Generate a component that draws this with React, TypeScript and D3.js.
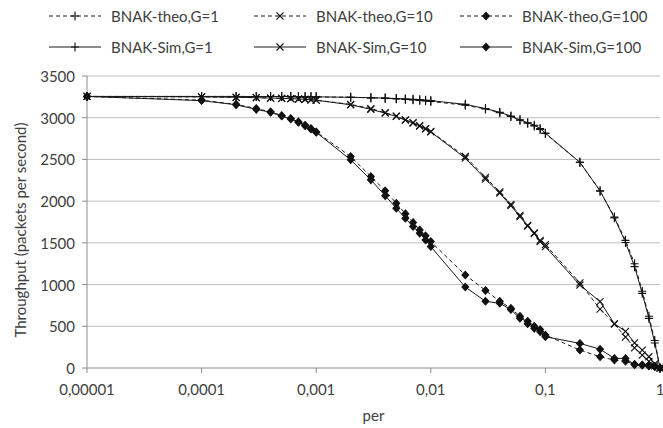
import React from 'react';
import * as d3 from 'd3';

// packet error rate values (x) shared by all series
const perValues = [
  0.00001,
  0.0001, 0.0002, 0.0003, 0.0004, 0.0005, 0.0006, 0.0007, 0.0008, 0.0009,
  0.001, 0.002, 0.003, 0.004, 0.005, 0.006, 0.007, 0.008, 0.009,
  0.01, 0.02, 0.03, 0.04, 0.05, 0.06, 0.07, 0.08, 0.09,
  0.1, 0.2, 0.3, 0.4, 0.5, 0.6, 0.7, 0.8, 0.9,
  1,
];

const theoG1 = [
  3255,
  3255, 3255, 3254, 3254, 3254, 3253, 3253, 3252, 3252,
  3250, 3244, 3238, 3232, 3226, 3220, 3214, 3208, 3202,
  3195, 3150, 3105, 3060, 3015, 2970, 2935, 2900, 2860,
  2810, 2465, 2120, 1810, 1530, 1250, 920, 620, 330,
  0,
];
const theoG10 = [
  3255,
  3250, 3245, 3240, 3236, 3232, 3228, 3224, 3220, 3215,
  3210, 3160, 3110, 3060, 3020, 2975, 2940, 2905, 2870,
  2835, 2535, 2285, 2110, 1960, 1830, 1710, 1620, 1530,
  1480, 1020, 705, 530, 370, 240, 155, 80, 25,
  0,
];
const theoG100 = [
  3255,
  3210, 3160, 3110, 3070, 3025, 2990, 2950, 2910, 2870,
  2830, 2535, 2295, 2125, 1975, 1850, 1745, 1655, 1585,
  1515, 1115, 930, 800, 715, 620, 530, 475, 435,
  395, 215, 135, 95, 80, 45, 35, 25, 15,
  0,
];
const simG1 = [
  3255,
  3255, 3255, 3254, 3254, 3254, 3253, 3253, 3252, 3252,
  3250, 3245, 3240, 3235, 3230, 3225, 3220, 3215, 3210,
  3205, 3160, 3110, 3065, 3020, 2975, 2940, 2910, 2870,
  2815, 2465, 2125, 1800, 1505, 1215, 895, 595, 300,
  0,
];
const simG10 = [
  3255,
  3250, 3245, 3240, 3236, 3232, 3228, 3224, 3220, 3215,
  3210, 3155, 3100, 3055, 3015, 2970, 2935, 2900, 2865,
  2830, 2515, 2265, 2095, 1945, 1815, 1700, 1610, 1515,
  1455, 995, 795, 530, 440, 300, 215, 135, 50,
  0,
];
const simG100 = [
  3255,
  3205, 3155, 3100, 3065, 3020, 2985, 2945, 2905, 2865,
  2825, 2495, 2255, 2065, 1915, 1795, 1695, 1615, 1535,
  1455, 970, 800, 775, 700, 595, 560, 500, 460,
  375, 295, 225, 115, 115, 40, 35, 30, 20,
  0,
];

const xTicks = [0.00001, 0.0001, 0.001, 0.01, 0.1, 1];
const xTickLabels = ['0,00001', '0,0001', '0,001', '0,01', '0,1', '1'];
const yTicks = [0, 500, 1000, 1500, 2000, 2500, 3000, 3500];

const seriesNames = [
  'BNAK-theo,G=1', 'BNAK-theo,G=10', 'BNAK-theo,G=100',
  'BNAK-Sim,G=1', 'BNAK-Sim,G=10', 'BNAK-Sim,G=100',
];
const seriesValues = [theoG1, theoG10, theoG100, simG1, simG10, simG100];
const seriesMarkers = ['plus', 'cross', 'diamond', 'plus', 'cross', 'diamond'];

const W = 663;
const H = 428;
const plot = { left: 87, right: 660, top: 76, bottom: 368 };
const FONT = 'Lato, "Open Sans", sans-serif';

const markerPath = (kind: string) => {
  if (kind === 'plus') return 'M-4,0H4M0,-4.5V4.5';
  if (kind === 'cross') return 'M-3.5,-3.5L3.5,3.5M-3.5,3.5L3.5,-3.5';
  return 'M0,-3.7L3.4,0L0,3.7L-3.4,0Z';
};

const Marker = ({ kind, x, y }: { kind: string; x: number; y: number }) => (
  <path
    d={markerPath(kind)}
    transform={`translate(${x},${y})`}
    stroke="#111"
    strokeWidth={1.1}
    fill={kind === 'diamond' ? '#111' : 'none'}
  />
);

export default function App() {
  const x = d3.scaleLog().domain([0.00001, 1]).range([plot.left, plot.right]);
  const y = d3.scaleLinear().domain([0, 3500]).range([plot.bottom, plot.top]);

  const line = d3.line<number>()
    .x((_, i) => x(perValues[i]))
    .y(v => y(v));

  // legend layout: 3 columns x 2 rows
  const legendCols = [49, 254, 460];
  const legendRows = [16, 47];

  return (
    <svg width={W} height={H} style={{ position: 'absolute', left: 0, top: 0 }} fontFamily={FONT}>
      <rect width={W} height={H} fill="#fff" />

      {/* gridlines */}
      {yTicks.slice(1).map(t => (
        <line key={t} x1={plot.left} x2={plot.right} y1={y(t)} y2={y(t)} stroke="#bdbdbd" strokeWidth={1} />
      ))}

      {/* axes */}
      <line x1={plot.left} x2={plot.left} y1={plot.top} y2={plot.bottom} stroke="#8c8c8c" />
      <line x1={plot.left} x2={plot.right} y1={plot.bottom} y2={plot.bottom} stroke="#8c8c8c" />
      {yTicks.map(t => (
        <g key={t}>
          <line x1={plot.left - 5} x2={plot.left} y1={y(t)} y2={y(t)} stroke="#8c8c8c" />
          <text x={plot.left - 12} y={y(t)} textAnchor="end" dominantBaseline="central" fontSize={15} fill="#404040">
            {t}
          </text>
        </g>
      ))}
      {xTicks.map((t, i) => (
        <g key={t}>
          <line x1={x(t)} x2={x(t)} y1={plot.bottom} y2={plot.bottom + 5} stroke="#8c8c8c" />
          <text x={x(t)} y={plot.bottom + 27} textAnchor="middle" fontSize={15} fill="#404040">
            {xTickLabels[i]}
          </text>
        </g>
      ))}

      <text x={(plot.left + plot.right) / 2} y={421} textAnchor="middle" fontSize={15} fill="#404040">per</text>
      <text
        transform={`translate(20,${(plot.top + plot.bottom) / 2 + 8}) rotate(-90)`}
        textAnchor="middle"
        dominantBaseline="central"
        fontSize={15}
        fill="#404040"
      >
        Throughput (packets per second)
      </text>

      {/* series */}
      {seriesValues.map((vals, s) => (
        <g key={seriesNames[s]}>
          <path
            d={line(vals) || ''}
            fill="none"
            stroke="#1a1a1a"
            strokeWidth={1}
            strokeDasharray={s < 3 ? '4,3' : undefined}
          />
          {vals.map((v, i) => (
            <Marker key={i} kind={seriesMarkers[s]} x={x(perValues[i])} y={y(v)} />
          ))}
        </g>
      ))}

      {/* legend */}
      {seriesNames.map((name, s) => {
        const lx = legendCols[s % 3];
        const ly = legendRows[Math.floor(s / 3)];
        return (
          <g key={name}>
            <line x1={lx} x2={lx + 52} y1={ly} y2={ly} stroke="#1a1a1a" strokeDasharray={s < 3 ? '4,3' : undefined} />
            <Marker kind={seriesMarkers[s]} x={lx + 26} y={ly} />
            <text x={lx + 62} y={ly} dominantBaseline="central" fontSize={15} fill="#404040">{name}</text>
          </g>
        );
      })}
    </svg>
  );
}
